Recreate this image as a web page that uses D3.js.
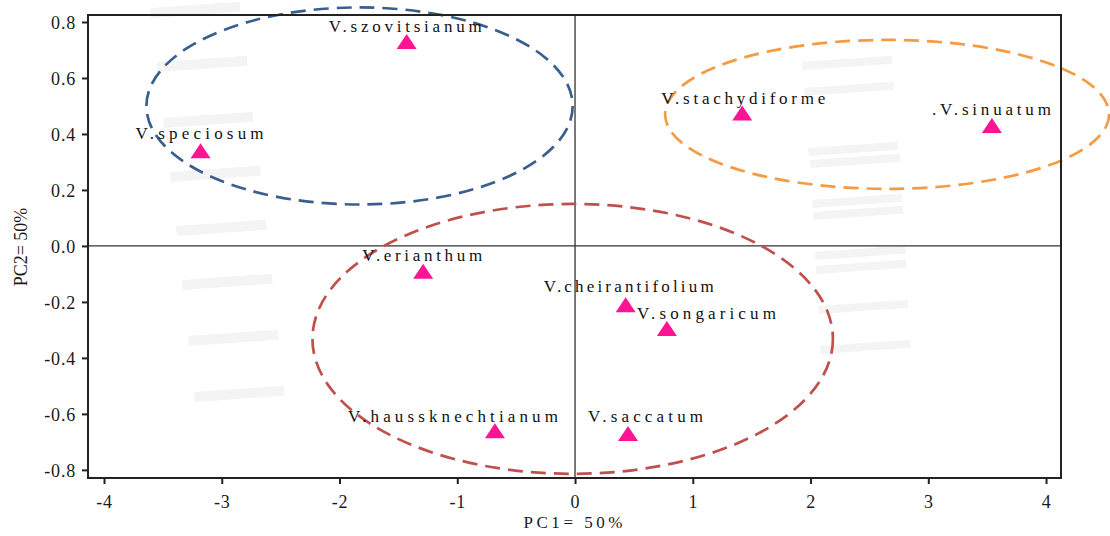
<!DOCTYPE html>
<html>
<head>
<meta charset="utf-8">
<script src="https://cdn.jsdelivr.net/npm/d3@7"></script>
<style>
  html, body { margin: 0; padding: 0; background: #fff; }
</style>
</head>
<body>
<div id="chart"></div>
<script>
// species scores on the first two principal components
const species = ["V.szovitsianum", "V.speciosum", "V.stachydiforme", ".V.sinuatum", "V.erianthum",
  "V.cheirantifolium", "V.songaricum", "V.haussknechtianum", "V.saccatum"];
const pc1 = [-1.43, -3.18, 1.42, 3.54, -1.29, 0.43, 0.78, -0.68, 0.45];
const pc2 = [0.73, 0.34, 0.475, 0.43, -0.09, -0.21, -0.295, -0.66, -0.67];

// group ellipses (centre and radii in PC units)
const groupNames = ["blue", "orange", "red"];
const groupCx = [-1.83, 2.65, -0.02];
const groupCy = [0.50, 0.47, -0.332];
const groupRx = [1.81, 1.885, 2.21];
const groupRy = [0.352, 0.266, 0.482];

const xTicks = [-4, -3, -2, -1, 0, 1, 2, 3, 4];
const xTickLabels = ["-4", "-3", "-2", "-1", "0", "1", "2", "3", "4"];
const yTicks = [-0.8, -0.6, -0.4, -0.2, 0, 0.2, 0.4, 0.6, 0.8];
const yTickLabels = ["-0.8", "-0.6", "-0.4", "-0.2", "0.0", "0.2", "0.4", "0.6", "0.8"];

const xTitle = "PC1= 50%";
const yTitle = "PC2= 50%";

// label placement (px offsets from the marker) — layout only
const labelDx = [-78, -65, -81, -60, -61, -82, -30, -147, -40];
const labelDy = [-10, -12, -9, -11, -10, -13, -10, -9, -11];
const labelW  = [153, 128, 164, 119, 120, 170, 139, 210, 115];

const W = 1110, H = 536;
const box = { left: 88, right: 1061, top: 15, bottom: 478 };
const groupColor = { blue: "#3a5f8e", orange: "#f79a44", red: "#c0504d" };
const serif = "'Liberation Serif', 'DejaVu Serif', serif";

const svg = d3.select("#chart").append("svg")
  .attr("width", W).attr("height", H).attr("viewBox", `0 0 ${W} ${H}`)
  .style("display", "block").style("font-family", serif);

const x = d3.scaleLinear().domain([-4.136, 4.127]).range([box.left, box.right]);
const y = d3.scaleLinear().domain([-0.829, 0.825]).range([box.bottom, box.top]);

/* faint background stripes (watermark) */
const wm = svg.append("g").attr("fill", "#f4f4f4");
[[150, 8], [157, 62], [163, 118], [170, 172], [176, 226], [182, 280], [188, 336], [194, 392]]
  .forEach(([bx, by]) => wm.append("rect").attr("x", bx).attr("y", by).attr("width", 90).attr("height", 10)
    .attr("transform", `rotate(-4 ${bx} ${by})`));
[[802, 62], [804, 88], [808, 148], [810, 160], [812, 200], [813, 212], [815, 252], [816, 266], [818, 306], [820, 346]]
  .forEach(([bx, by]) => wm.append("rect").attr("x", bx).attr("y", by).attr("width", 90).attr("height", 8)
    .attr("transform", `rotate(-4 ${bx} ${by})`));

/* zero lines */
svg.append("line").attr("x1", box.left).attr("x2", box.right).attr("y1", y(0)).attr("y2", y(0))
  .attr("stroke", "#333").attr("stroke-width", 1.3);
svg.append("line").attr("x1", x(0)).attr("x2", x(0)).attr("y1", box.top).attr("y2", box.bottom)
  .attr("stroke", "#333").attr("stroke-width", 1.3);

/* group ellipses */
groupNames.forEach((gname, i) => {
  svg.append("ellipse")
    .attr("cx", x(groupCx[i])).attr("cy", y(groupCy[i]))
    .attr("rx", x(groupCx[i] + groupRx[i]) - x(groupCx[i]))
    .attr("ry", y(groupCy[i]) - y(groupCy[i] + groupRy[i]))
    .attr("fill", "none").attr("stroke", groupColor[gname])
    .attr("stroke-width", 2.7).attr("stroke-dasharray", "15,8");
});

/* frame */
svg.append("rect").attr("x", box.left).attr("y", box.top)
  .attr("width", box.right - box.left).attr("height", box.bottom - box.top)
  .attr("fill", "none").attr("stroke", "#222").attr("stroke-width", 2);

/* axes */
const xAxis = svg.append("g").attr("transform", `translate(0,${box.bottom})`)
  .call(d3.axisBottom(x).tickValues(xTicks).tickFormat((d, i) => xTickLabels[i]).tickSize(6).tickSizeOuter(0));
const yAxis = svg.append("g").attr("transform", `translate(${box.left},0)`)
  .call(d3.axisLeft(y).tickValues(yTicks).tickFormat((d, i) => yTickLabels[i]).tickSize(6).tickSizeOuter(0));
[xAxis, yAxis].forEach(a => {
  a.attr("font-family", null);
  a.select(".domain").remove();
  a.selectAll(".tick line").attr("stroke", "#222").attr("stroke-width", 2);
  a.selectAll(".tick text").attr("fill", "#1a1a1a")
    .style("font-family", serif).style("font-size", "18px").attr("letter-spacing", 0.8);
});
xAxis.selectAll(".tick text").attr("dy", "1.15em");
yAxis.selectAll(".tick text").attr("x", -12).attr("dy", "0.36em");

/* axis titles */
svg.append("text").attr("x", 573).attr("y", 528).attr("text-anchor", "middle")
  .style("font-family", serif).style("font-size", "17px").attr("fill", "#1a1a1a")
  .attr("textLength", 99).attr("lengthAdjust", "spacing")
  .text(xTitle);
svg.append("text").attr("transform", "translate(27,247) rotate(-90)").attr("text-anchor", "middle")
  .style("font-family", serif).style("font-size", "18px").attr("fill", "#1a1a1a")
  .text(yTitle);

/* markers */
const tri = "M-10,7.5L10,7.5L0,-7.5Z";
species.forEach((name, i) => {
  svg.append("path").attr("d", tri)
    .attr("transform", `translate(${x(pc1[i])},${y(pc2[i])})`)
    .attr("fill", "#ff1493");
});

/* labels */
species.forEach((name, i) => {
  svg.append("text")
    .attr("x", x(pc1[i]) + labelDx[i]).attr("y", y(pc2[i]) + labelDy[i])
    .style("font-family", serif).style("font-size", "17px").attr("fill", "#111")
    .attr("textLength", labelW[i]).attr("lengthAdjust", "spacing")
    .text(name);
});
</script>
</body>
</html>
